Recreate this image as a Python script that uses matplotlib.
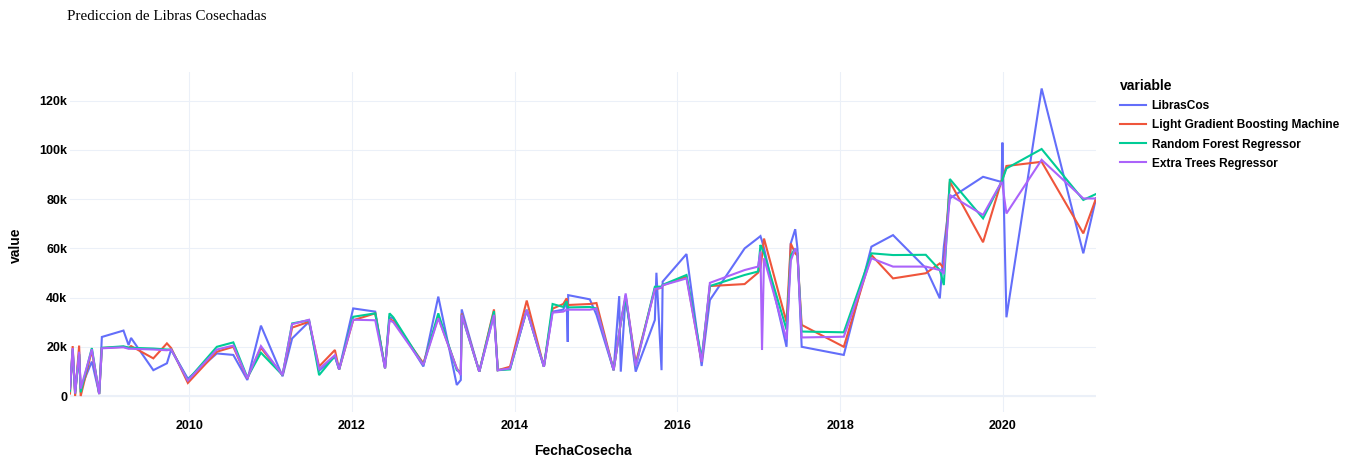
import matplotlib
matplotlib.use("Agg")
import matplotlib.pyplot as plt
import matplotlib.dates as mdates
from matplotlib.ticker import FuncFormatter, MultipleLocator
import pandas as pd

fechas = [
    "2008-07-15", "2008-07-27", "2008-08-07", "2008-08-25", "2008-09-01", "2008-10-21",
    "2008-11-23", "2008-12-05", "2009-03-12", "2009-04-04", "2009-04-15", "2009-07-24",
    "2009-09-23", "2009-10-12", "2009-12-26", "2010-05-05", "2010-07-18", "2010-09-19",
    "2010-11-19", "2011-02-24", "2011-04-08", "2011-06-23", "2011-08-07", "2011-10-17",
    "2011-11-05", "2012-01-07", "2012-04-15", "2012-05-29", "2012-06-18", "2012-07-05",
    "2012-11-17", "2013-01-23", "2013-04-16", "2013-05-04", "2013-05-08", "2013-07-26",
    "2013-09-30", "2013-10-17", "2013-12-11", "2014-02-24", "2014-05-12", "2014-06-20",
    "2014-08-07", "2014-08-22", "2014-08-27", "2014-08-29", "2014-12-04", "2015-01-03",
    "2015-03-21", "2015-04-15", "2015-04-22", "2015-05-14", "2015-06-28", "2015-09-22",
    "2015-09-29", "2015-10-22", "2015-10-27", "2016-02-11", "2016-04-19", "2016-05-26",
    "2016-10-29", "2016-12-28", "2017-01-08", "2017-01-15", "2017-01-24", "2017-05-05",
    "2017-05-24", "2017-06-13", "2017-06-23", "2017-07-12", "2018-01-17", "2018-05-21",
    "2018-08-26", "2019-01-20", "2019-03-24", "2019-04-11", "2019-05-08", "2019-10-04",
    "2019-12-26", "2019-12-30", "2020-01-17", "2020-06-23", "2020-12-27", "2021-02-22",
]

libras_cos = [
    3000, 18000, 2000, 17000, 3000, 14000, 1000, 24000, 26600, 20700, 23600, 10500,
    13300, 18900, 7000, 17300, 16700, 6500, 28600, 8000, 23400, 30200, 10300, 16000,
    10800, 35600, 34300, 11300, 32000, 31600, 12000, 40400, 4500, 6500, 35200, 9900,
    33000, 10500, 11200, 35000, 11900, 34300, 35100, 38500, 22000, 41000, 39300, 33000,
    10500, 40600, 9900, 41000, 9900, 30900, 50100, 10500, 46500, 57700, 12200, 39000,
    60000, 64200, 65000, 63000, 60000, 20000, 62000, 67800, 60000, 20000, 16700, 60700,
    65400, 52000, 39700, 60700, 80300, 89100, 87000, 103000, 32000, 125000, 58000, 80300,
]

lgbm = [
    1000, 20300, 0, 20500, 0, 18500, 800, 19500, 20000, 19500, 20300, 15300,
    21400, 19500, 5300, 18000, 20000, 7200, 19600, 8500, 27800, 30200, 12000, 18700,
    10800, 30800, 33600, 11300, 31300, 30500, 13300, 32000, 11200, 9000, 33500, 9900,
    35200, 10500, 11900, 38800, 11900, 35500, 37400, 39700, 37500, 37000, 37400, 37800,
    10500, 25600, 29700, 40500, 13300, 43500, 43600, 44000, 45000, 48500, 13900, 44700,
    45500, 50100, 52000, 57000, 64000, 30000, 62000, 58000, 57000, 28900, 20000, 57300,
    47800, 49900, 53900, 52000, 87100, 62500, 87500, 88000, 93500, 95200, 66100, 80300,
]

random_forest = [
    2000, 19000, 1000, 17000, 1500, 19500, 800, 19600, 20200, 19700, 19600, 19300,
    18900, 18900, 6500, 20000, 21800, 7500, 17600, 8500, 29500, 30800, 8500, 16300,
    10800, 32200, 33600, 11300, 33600, 32000, 12600, 33600, 10500, 9500, 33000, 9900,
    34500, 10500, 10800, 35000, 11900, 37400, 36200, 38500, 36000, 36000, 36200, 35600,
    10500, 25600, 29700, 40000, 12000, 44400, 44400, 44500, 45200, 49200, 15300, 44700,
    49200, 50600, 61400, 60000, 58000, 27000, 57000, 60000, 58000, 26200, 25900, 58000,
    57300, 57400, 51200, 45100, 88200, 72200, 87000, 88000, 92500, 100400, 79700, 82100,
]

extra_trees = [
    3000, 19500, 1000, 18000, 3000, 19000, 800, 19400, 19800, 19200, 19200, 18900,
    18600, 18900, 6300, 18900, 20500, 7200, 20300, 8500, 29200, 31000, 11000, 16600,
    10800, 31000, 30800, 11300, 30800, 30000, 12600, 31600, 11200, 8500, 33000, 9900,
    33000, 10500, 11200, 35000, 11900, 33900, 34300, 35100, 35000, 35100, 35100, 35500,
    10500, 25600, 29700, 41700, 12000, 43500, 43600, 44000, 45000, 47800, 13900, 46000,
    51200, 52600, 58700, 18700, 56000, 23000, 55000, 60000, 58000, 23800, 24100, 56000,
    52600, 52600, 51200, 50000, 81700, 73600, 87000, 86000, 74200, 96000, 80300, 80300,
]

series_names = ["LibrasCos", "Light Gradient Boosting Machine",
                "Random Forest Regressor", "Extra Trees Regressor"]
series_colors = ["#636efa", "#EF553B", "#00cc96", "#ab63fa"]

df = pd.DataFrame({
    "FechaCosecha": pd.to_datetime(fechas),
    series_names[0]: libras_cos,
    series_names[1]: lgbm,
    series_names[2]: random_forest,
    series_names[3]: extra_trees,
})

W, H = 1357, 461
fig = plt.figure(figsize=(W / 100, H / 100), dpi=100)
left, right, top, bottom = 70, 1096, 72.5, 412
ax = fig.add_axes([left / W, 1 - bottom / H, (right - left) / W, (bottom - top) / H])

grid_c = "#EBF0F8"
for name, col in zip(series_names, series_colors):
    ax.plot(df["FechaCosecha"], df[name], color=col, lw=1.5, label=name, zorder=3,
            solid_joinstyle="miter")

ax.set_xlim(df["FechaCosecha"].min(), df["FechaCosecha"].max())
ax.set_ylim(-6500, 131500)

ax.yaxis.set_major_locator(MultipleLocator(20000))
ax.yaxis.set_major_formatter(FuncFormatter(lambda v, p: "0" if v == 0 else f"{int(round(v / 1000))}k"))
ax.xaxis.set_major_locator(mdates.YearLocator(2))
ax.xaxis.set_major_formatter(mdates.DateFormatter("%Y"))

ax.grid(True, color=grid_c, lw=0.75, zorder=0)
ax.axhline(0, color=grid_c, lw=1.5, zorder=1)
for s in ax.spines.values():
    s.set_visible(False)
ax.tick_params(length=0, pad=4)
for lab in ax.get_xticklabels() + ax.get_yticklabels():
    lab.set_fontfamily("Liberation Sans")
    lab.set_fontweight("bold")
    lab.set_fontsize(9)
ax.tick_params(axis="y", pad=2)
ax.tick_params(axis="x", pad=6)

fig.text((left + right) / 2 / W, 1 - 451 / H, "FechaCosecha", ha="center", va="center",
         fontfamily="Liberation Sans", fontweight="bold", fontsize=10)
fig.text(16 / W, 1 - 245 / H, "value", ha="center", va="center", rotation=90,
         fontfamily="Liberation Sans", fontweight="bold", fontsize=10)
fig.text(67 / W, 1 - 17 / H, "Prediccion de Libras Cosechadas", ha="left", va="center",
         fontfamily="Liberation Serif", fontsize=10.8)

leg = ax.legend(loc="upper left", bbox_to_anchor=(1120 / W, 1 - 79 / H),
                bbox_transform=fig.transFigure, frameon=False, title="variable",
                prop={"family": "Liberation Sans", "weight": "bold", "size": 8.6},
                title_fontproperties={"family": "Liberation Sans", "weight": "bold", "size": 10},
                handlelength=2.2, handletextpad=0.45, labelspacing=0.6,
                alignment="left", borderaxespad=0, borderpad=0)

fig.savefig("out.png", dpi=100, facecolor="white")
